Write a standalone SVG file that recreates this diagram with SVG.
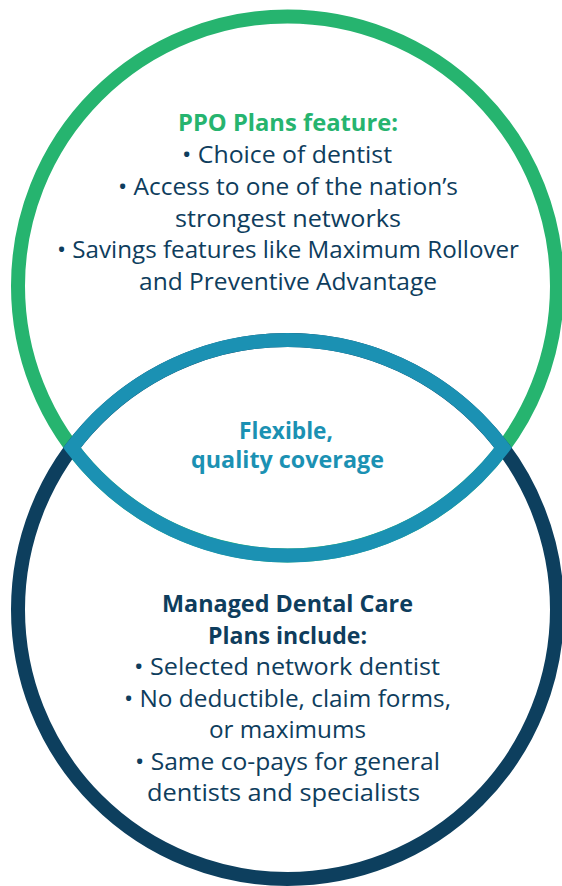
<svg xmlns="http://www.w3.org/2000/svg" width="562" height="886" viewBox="0 0 562 886">
  <style>
    .ring { fill: none; stroke-width: 14; }
    .t { font-family: "Open Sans", "Noto Sans", "Liberation Sans", sans-serif; font-size: 23px; text-anchor: middle; fill: #0e3d5d; }
    .b { font-weight: 700; }
    .green { fill: #26b46f; }
    .teal { fill: #1b91b3; }
  </style>
  <rect width="562" height="886" fill="#ffffff"/>
  <g id="connectors"/>
  <g id="ppo">
    <circle class="ring" cx="287.5" cy="286" r="269.5" stroke="#26b46f"/>
    <text class="t b green" x="288" y="131" textLength="220" lengthAdjust="spacingAndGlyphs">PPO Plans feature:</text>
    <text class="t" x="287" y="163" textLength="210" lengthAdjust="spacingAndGlyphs">• Choice of dentist</text>
    <text class="t" x="288" y="195" textLength="340" lengthAdjust="spacingAndGlyphs">• Access to one of the nation’s</text>
    <text class="t" x="288" y="226.5" textLength="226" lengthAdjust="spacingAndGlyphs">strongest networks</text>
    <text class="t" x="288" y="258" textLength="462" lengthAdjust="spacingAndGlyphs">• Savings features like Maximum Rollover</text>
    <text class="t" x="288" y="290" textLength="298" lengthAdjust="spacingAndGlyphs">and Preventive Advantage</text>
  </g>
  <g id="managed">
    <circle class="ring" cx="287.5" cy="609.5" r="269.5" stroke="#0d3f5e"/>
    <text class="t b" x="287.5" y="612" textLength="251" lengthAdjust="spacingAndGlyphs">Managed Dental Care</text>
    <text class="t b" x="287.5" y="643.5" textLength="159" lengthAdjust="spacingAndGlyphs">Plans include:</text>
    <text class="t" x="287" y="675" textLength="306" lengthAdjust="spacingAndGlyphs">• Selected network dentist</text>
    <text class="t" x="287.5" y="706.5" textLength="327" lengthAdjust="spacingAndGlyphs">• No deductible, claim forms,</text>
    <text class="t" x="287.5" y="738" textLength="157" lengthAdjust="spacingAndGlyphs">or maximums</text>
    <text class="t" x="287.5" y="769.5" textLength="305" lengthAdjust="spacingAndGlyphs">• Same co-pays for general</text>
    <text class="t" x="283.5" y="801" textLength="273" lengthAdjust="spacingAndGlyphs">dentists and specialists</text>
  </g>
  <g id="overlap">
    <path class="ring" stroke="#1b91b3" stroke-linejoin="miter" d="M 71.94 447.75 A 269.5 269.5 0 0 1 503.06 447.75 A 269.5 269.5 0 0 1 71.94 447.75 Z"/>
    <text class="t b teal" x="286" y="439" textLength="94" lengthAdjust="spacingAndGlyphs">Flexible,</text>
    <text class="t b teal" x="287.5" y="468" textLength="193" lengthAdjust="spacingAndGlyphs">quality coverage</text>
  </g>
</svg>
